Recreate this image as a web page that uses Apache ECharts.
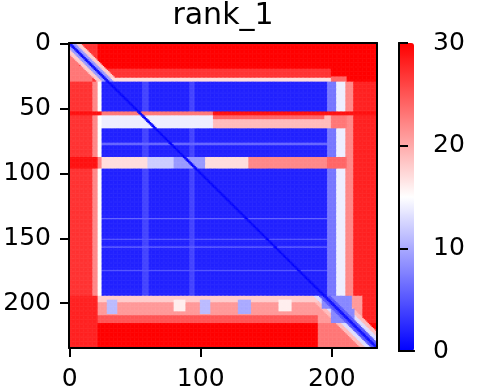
<!DOCTYPE html>
<html><head><meta charset="utf-8">
<script src="https://cdn.jsdelivr.net/npm/echarts@6/dist/echarts.min.js"></script>
<style>html,body{margin:0;padding:0;background:#fff}#c{width:484px;height:392px}</style>
</head><body><div id="c"></div>
<script>
// ---- data (residue indices, PAE values) ----
const N = 235;
const chartTitle = 'rank_1';
const xTicks = [0, 100, 200];
const yTicks = [0, 50, 100, 150, 200];
const cbTicks = [0, 10, 20, 30];
const cbRange = [0, 30];
const baseValue = 30;
// [rowStart, rowEnd, colStart, colEnd, value]  (end exclusive), applied in order
const patches = [
  [0, 235, 0, 22, 27],
  [8, 18, 0, 8, 23],
  [18, 30, 0, 18, 23],
  [30, 195, 0, 18, 27],
  [30, 195, 18, 22, 22],
  [30, 195, 22, 25, 15],
  [30, 195, 197, 204, 7],
  [30, 195, 204, 211, 14],
  [30, 195, 211, 217, 22],
  [30, 195, 217, 235, 28],
  [20, 27, 25, 200, 27],
  [27, 30, 25, 200, 17],
  [26, 30, 200, 212, 24],
  [30, 53, 25, 197, 2],
  [66, 88, 25, 197, 2],
  [97, 195, 25, 197, 2],
  [30, 53, 56, 61, 4],
  [30, 53, 92, 96, 4],
  [66, 88, 56, 61, 4],
  [66, 88, 92, 96, 4],
  [97, 195, 56, 61, 4],
  [97, 195, 92, 96, 4],
  [77, 79, 25, 197, 6],
  [135, 136, 25, 197, 6],
  [151, 152, 25, 197, 5],
  [157, 158, 25, 197, 6],
  [175, 176, 25, 197, 5],
  [53, 56, 0, 235, 29],
  [53, 56, 25, 110, 23],
  [56, 66, 25, 110, 14],
  [56, 66, 110, 200, 19],
  [56, 59, 110, 195, 24],
  [56, 66, 200, 212, 23],
  [88, 97, 0, 22, 29],
  [88, 97, 22, 25, 22],
  [88, 97, 25, 60, 17],
  [88, 97, 60, 80, 12],
  [88, 97, 80, 104, 9],
  [88, 97, 104, 137, 17],
  [88, 97, 137, 197, 22],
  [88, 97, 197, 212, 24],
  [195, 235, 0, 22, 28],
  [195, 200, 22, 195, 18],
  [200, 210, 22, 195, 21],
  [210, 216, 22, 195, 25],
  [198, 209, 29, 37, 11],
  [198, 209, 100, 108, 11],
  [198, 209, 129, 139, 10],
  [198, 207, 80, 89, 16],
  [198, 207, 160, 170, 16],
  [195, 216, 190, 235, 21],
  [195, 205, 193, 216, 8],
  [205, 216, 200, 218, 8],
  [195, 216, 224, 235, 28],
  [216, 235, 190, 225, 23]
];
// [rowStart, rowEnd, halfWidth, value] bands around the diagonal (min applied)
const diagBands = [
  [0, 30, 8, 18], [0, 30, 4, 9], [0, 30, 1, 1],
  [30, 195, 1, 1], [30, 195, 0, 0],
  [195, 235, 12, 19], [195, 235, 8, 13], [195, 235, 4, 5], [195, 235, 1, 1]
];

// ---- build the matrix from the arrays above ----
const M = [];
for (let r = 0; r < N; r++) { M.push(new Array(N).fill(baseValue)); }
patches.forEach(([r0, r1, c0, c1, v]) => {
  for (let r = r0; r < Math.min(r1, N); r++)
    for (let c = c0; c < Math.min(c1, N); c++) M[r][c] = v;
});
diagBands.forEach(([r0, r1, hw, v]) => {
  for (let r = r0; r < Math.min(r1, N); r++)
    for (let c = Math.max(0, r - hw); c <= Math.min(N - 1, r + hw); c++)
      M[r][c] = Math.min(M[r][c], v);
});
const cells = [];
for (let r = 0; r < N; r++) for (let c = 0; c < N; c++) cells.push([c, r, M[r][c]]);
const cats = Array.from({length: N}, (_, i) => String(i));

const FONT = 'DejaVu Sans';
const lab = {color: '#000', fontSize: 25, fontFamily: FONT};
const line = {show: true, lineStyle: {color: '#000', width: 2}};
const chart = echarts.init(document.getElementById('c'), null, {renderer: 'canvas'});
chart.setOption({
  animation: false,
  backgroundColor: '#fff',
  title: {text: chartTitle, left: 223, top: 1, padding: 0, textAlign: 'center',
    textStyle: {color: '#000', fontSize: 30, fontWeight: 'normal', fontFamily: FONT}},
  grid: [
    {left: 69, top: 43, width: 308, height: 308},
    {left: 399, top: 43, width: 15, height: 308}
  ],
  xAxis: [
    {type: 'category', data: cats, gridIndex: 0, position: 'bottom', z: 10,
      axisLine: line,
      axisTick: {show: true, alignWithLabel: true, length: 9, lineStyle: {color: '#000', width: 2},
        interval: (i) => xTicks.includes(i)},
      axisLabel: Object.assign({interval: (i) => xTicks.includes(i), margin: 19}, lab),
      splitLine: {show: false}},
    {type: 'category', data: cats, gridIndex: 0, position: 'top', z: 10,
      axisLine: line, axisTick: {show: false}, axisLabel: {show: false}},
    {type: 'value', gridIndex: 1, position: 'bottom', z: 10, min: 0, max: 1,
      axisLine: line, axisTick: {show: false}, axisLabel: {show: false}, splitLine: {show: false}},
    {type: 'value', gridIndex: 1, position: 'top', z: 10, min: 0, max: 1,
      axisLine: line, axisTick: {show: false}, axisLabel: {show: false}, splitLine: {show: false}}
  ],
  yAxis: [
    {type: 'category', data: cats, gridIndex: 0, inverse: true, position: 'left', z: 10,
      axisLine: line,
      axisTick: {show: true, alignWithLabel: true, length: 9, lineStyle: {color: '#000', width: 2},
        interval: (i) => yTicks.includes(i)},
      axisLabel: Object.assign({interval: (i) => yTicks.includes(i), margin: 18}, lab),
      splitLine: {show: false}},
    {type: 'category', data: cats, gridIndex: 0, inverse: true, position: 'right', z: 10,
      axisLine: line, axisTick: {show: false}, axisLabel: {show: false}},
    {type: 'value', gridIndex: 1, position: 'right', z: 10, min: cbRange[0], max: cbRange[1], interval: 10,
      axisLine: line,
      axisTick: {show: true, length: 9, lineStyle: {color: '#000', width: 2}},
      axisLabel: Object.assign({margin: 19, formatter: (v) => cbTicks.includes(v) ? String(v) : ''}, lab),
      splitLine: {show: false}},
    {type: 'value', gridIndex: 1, position: 'left', z: 10, min: cbRange[0], max: cbRange[1],
      axisLine: line, axisTick: {show: false}, axisLabel: {show: false}, splitLine: {show: false}}
  ],
  visualMap: {
    type: 'continuous', min: cbRange[0], max: cbRange[1], seriesIndex: 0,
    show: true, calculable: false, hoverLink: false, orient: 'vertical',
    left: 399, top: 43, itemWidth: 15, itemHeight: 308, padding: 0,
    text: null, inRange: {color: ['#0000ff', '#ffffff', '#ff0000']}
  },
  series: [{
    type: 'heatmap', xAxisIndex: 0, yAxisIndex: 0, data: cells,
    progressive: 0, emphasis: {disabled: true}, itemStyle: {borderWidth: 0}
  }]
});
</script>
</body></html>
